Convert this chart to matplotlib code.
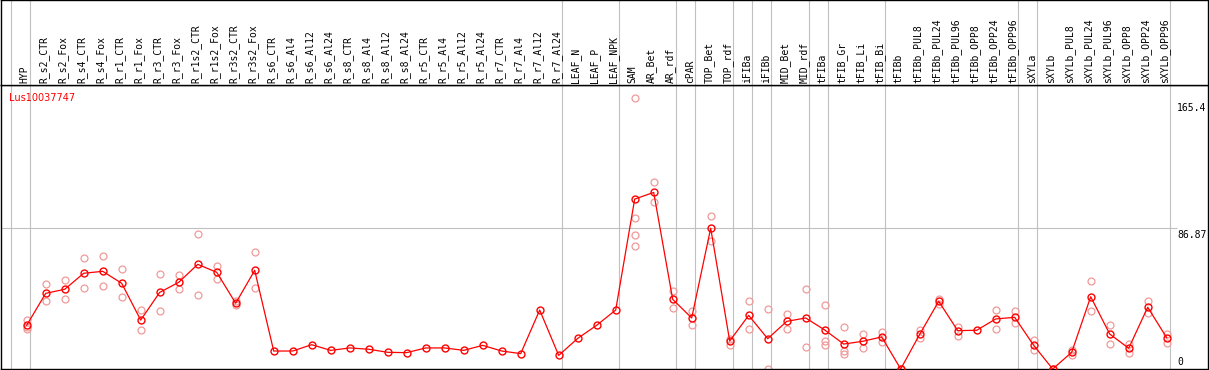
import matplotlib.pyplot as plt

labels = ['HYP', 'R_s2_CTR', 'R_s2_Fox', 'R_s4_CTR', 'R_s4_Fox', 'R_r1_CTR', 'R_r1_Fox',
          'R_r3_CTR', 'R_r3_Fox', 'R_r1s2_CTR', 'R_r1s2_Fox', 'R_r3s2_CTR', 'R_r3s2_Fox',
          'R_s6_CTR', 'R_s6_Al4', 'R_s6_Al12', 'R_s6_Al24', 'R_s8_CTR', 'R_s8_Al4',
          'R_s8_Al12', 'R_s8_Al24', 'R_r5_CTR', 'R_r5_Al4', 'R_r5_Al12', 'R_r5_Al24',
          'R_r7_CTR', 'R_r7_Al4', 'R_r7_Al12', 'R_r7_Al24', 'LEAF_N', 'LEAF_P', 'LEAF_NPK',
          'SAM', 'AR_Bet', 'AR_rdf', 'cPAR', 'TOP_Bet', 'TOP_rdf', 'iFIBa', 'iFIBb',
          'MID_Bet', 'MID_rdf', 'tFIBa', 'tFIB_Gr', 'tFIB_Li', 'tFIB_Bi', 'tFIBb',
          'tFIBb_PUL8', 'tFIBb_PUL24', 'tFIBb_PUL96', 'tFIBb_OPP8', 'tFIBb_OPP24',
          'tFIBb_OPP96', 'sXYLa', 'sXYLb', 'sXYLb_PUL8', 'sXYLb_PUL24', 'sXYLb_PUL96',
          'sXYLb_OPP8', 'sXYLb_OPP24', 'sXYLb_OPP96']

means = [27.0, 46.7, 49.2, 59.1, 60.3, 52.9, 30.2, 47.3, 53.5, 64.6, 59.7, 40.6, 60.9,
         11.1, 11.1, 15.0, 11.5, 13.0, 12.2, 10.3, 10.1, 13.0, 13.0, 11.5, 14.6, 11.1,
         9.5, 36.4, 8.4, 18.9, 27.0, 36.4,
         104.9, 109.0, 43.0, 31.5, 86.9, 17.3, 33.1, 18.7, 29.4, 31.5, 24.1, 15.4, 17.1,
         19.8, 0.0, 21.4, 41.8, 23.7, 23.9, 30.9, 31.9, 14.6, 0.0, 10.3, 44.6, 21.6,
         12.8, 38.1, 19.3]

replicates = [
    [30.2, 24.9, 26.0], [52.3, 41.8], [54.7, 43.2], [68.3, 49.8], [69.8, 51.0],
    [61.5, 44.2], [36.2, 23.9], [58.4, 35.6], [58.0, 49.4], [83.1, 45.5],
    [63.4, 55.8], [41.8, 39.7], [72.0, 49.8],
    [], [], [], [], [], [], [], [], [], [], [], [], [], [], [], [], [], [], [],
    [167.1, 93.0, 82.5, 75.7], [115.4, 102.9], [48.1, 37.4], [36.0, 27.0],
    [94.4, 79.2], [18.3, 14.8], [42.0, 24.5], [37.0, 0.2], [33.8, 24.5],
    [49.4, 13.6], [39.3, 17.1, 14.8], [25.9, 11.3, 9.3], [21.4, 12.8], [22.8, 16.9],
    [0.0, 0.0], [24.1, 18.9], [43.4, 39.9], [26.1, 20.2], [], [36.2, 24.5],
    [35.8, 28.2], [17.9, 11.7], [0.0, 0.0], [11.7, 8.6], [54.3, 35.6], [27.3, 15.6],
    [15.2, 9.7], [42.0, 34.4], [21.4, 16.2],
]

# last category of each group (a grey separator follows it)
group_ends = [-1, 0, 28, 31, 34, 35, 37, 38, 39, 41, 42, 45, 52, 53, 60]

gene = 'Lus10037747'
ymax_label = 165.4
ymid_label = 86.87

W, H = 1209, 370
x0, step = 26.7, 19.0          # pixel position of first category, spacing
ypx0, yscale = 369, 1.62       # pixel of value 0, pixels per unit
grey = '#c0c0c0'
mono = 'DejaVu Sans Mono'


def px2x(px):
    return (px - x0) / step


fig = plt.figure(figsize=(W / 100, H / 100), dpi=100)
ax = fig.add_axes([1 / W, (H - 369) / H, 1207 / W, 284 / H])
hdr = fig.add_axes([1 / W, (H - 85) / H, 1207 / W, 85 / H])

xlim = (px2x(1), px2x(1208))
for a in (ax, hdr):
    a.set_xlim(*xlim)
    a.set_xticks([])
    a.set_yticks([])
    for s in a.spines.values():
        s.set_color('black')
        s.set_linewidth(1.0)
    for g in group_ends:
        a.axvline(g + 0.17, color=grey, lw=0.8, zorder=0)

ax.set_ylim(0, (369 - 85) / yscale)
hdr.set_ylim(0, 1)

ax.hlines(ymid_label, xlim[0], px2x(1177), color=grey, lw=0.8, zorder=0)

# replicate points
for i, reps in enumerate(replicates):
    if reps:
        ax.plot([i] * len(reps), reps, 'o', ms=5, mfc='none', mec='#f09a9a',
                mew=0.9, clip_on=False, zorder=2)

xs = list(range(len(labels)))
ax.plot(xs, means, '-', color='red', lw=0.9, zorder=3)
ax.plot(xs, means, 'o', ms=5, mfc='none', mec='red', mew=1.0, clip_on=False, zorder=4)

ax.text(px2x(9), 175.3 - (97.7 - 85) / yscale, gene, color='red', fontsize=7,
        va='center', ha='left')

# right value labels
rx = px2x(1177)
ax.text(rx, ymax_label - 1.0, '165.4', fontsize=7, family=mono, va='top', ha='left')
ax.text(rx, ymid_label - 0.8, '86.87', fontsize=7, family=mono, va='top', ha='left')
ax.text(rx, 1.5, '0', fontsize=7, family=mono, va='bottom', ha='left')

for i, lab in enumerate(labels):
    hdr.text(i - 0.1, 2 / 85, lab, rotation=90, fontsize=7, family=mono,
             va='bottom', ha='center')

fig.savefig('out.png', dpi=100)
